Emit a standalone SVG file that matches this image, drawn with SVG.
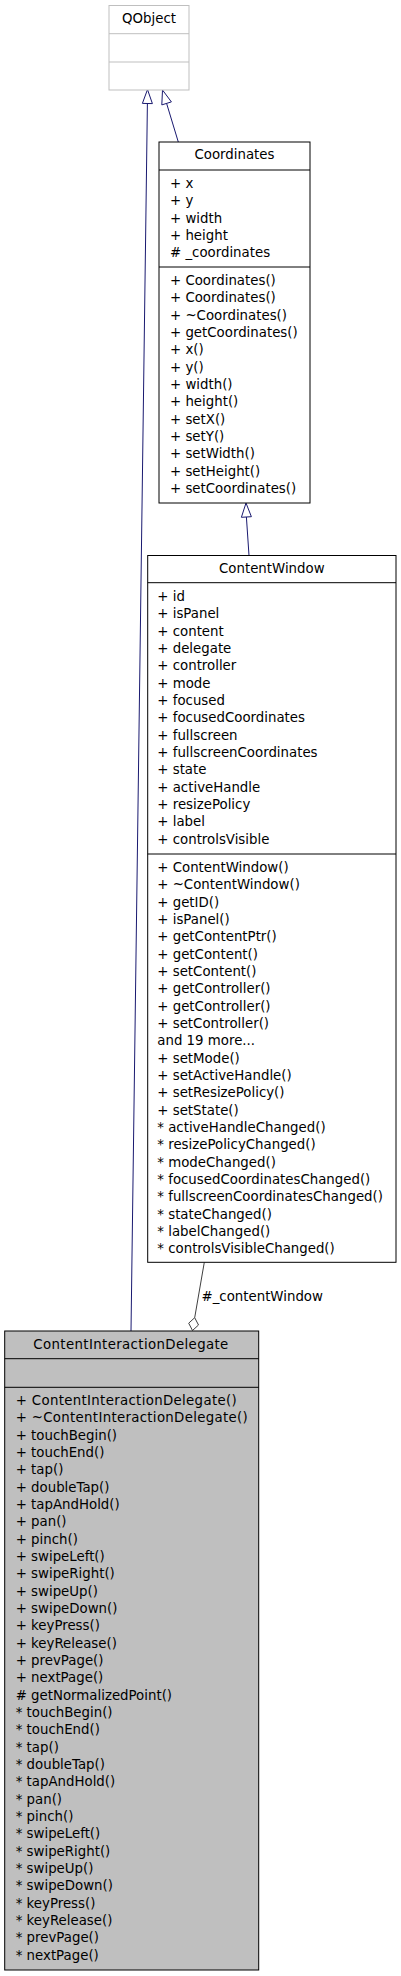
<svg xmlns="http://www.w3.org/2000/svg" width="401" height="1976" viewBox="0 0 401 1976">
<style>
text{font-family:"DejaVu Sans",sans-serif;font-size:13.33px;fill:#000}
.h{text-anchor:middle}
.box{fill:#fff;stroke:#000;stroke-width:1}
.sel{fill:#bfbfbf;stroke:#000;stroke-width:1}
.und{fill:#fff;stroke:#bfbfbf;stroke-width:1}
.div{stroke:#000;stroke-width:1}
.divg{stroke:#bfbfbf;stroke-width:1}
.inh{fill:none;stroke:#191970;stroke-width:1}
.inhh{fill:#fff;stroke:#191970;stroke-width:1}
.agg{fill:none;stroke:#404040;stroke-width:1}
.aggh{fill:#fff;stroke:#404040;stroke-width:1}
</style>
<rect width="401" height="1976" fill="#fff"/>
<g id="connectors">
<path class="inh" d="M131,1331 L147.4,103.5"/>
<polygon class="inhh" points="147.5,89.5 152.4,103.6 142.4,103.4"/>
<path class="inh" d="M178.3,142 L166.6,103.4"/>
<polygon class="inhh" points="162.5,90 171.4,101.9 161.8,104.9"/>
<path class="inh" d="M249,555.5 L246.4,517"/>
<polygon class="inhh" points="246,503 251.4,516.7 241.4,517.3"/>
<path class="agg" d="M204.3,1262.3 L194.7,1317.7"/>
<polygon class="aggh" points="192.5,1330.5 188.7,1323.2 194.7,1317.7 198.5,1325"/>
<text x="201.5" y="1301">#_contentWindow</text>
</g>
<g id="QObject">
<rect class="und" x="109" y="5.5" width="80" height="84.5"/>
<path class="divg" d="M109,33.7H189M109,62H189"/>
<text class="h" x="149" y="22.5">QObject</text>
</g>
<g id="Coordinates">
<rect class="box" x="159" y="142" width="151" height="361"/>
<path class="div" d="M159,170H310M159,267H310"/>
<text class="h" x="234.5" y="159">Coordinates</text>
<text x="170" y="188"><tspan x="170">+ x</tspan><tspan x="170" dy="17.33">+ y</tspan><tspan x="170" dy="17.33">+ width</tspan><tspan x="170" dy="17.33">+ height</tspan><tspan x="170" dy="17.33"># _coordinates</tspan></text>
<text x="170" y="285"><tspan x="170">+ Coordinates()</tspan><tspan x="170" dy="17.33">+ Coordinates()</tspan><tspan x="170" dy="17.33">+ ~Coordinates()</tspan><tspan x="170" dy="17.33">+ getCoordinates()</tspan><tspan x="170" dy="17.33">+ x()</tspan><tspan x="170" dy="17.33">+ y()</tspan><tspan x="170" dy="17.33">+ width()</tspan><tspan x="170" dy="17.33">+ height()</tspan><tspan x="170" dy="17.33">+ setX()</tspan><tspan x="170" dy="17.33">+ setY()</tspan><tspan x="170" dy="17.33">+ setWidth()</tspan><tspan x="170" dy="17.33">+ setHeight()</tspan><tspan x="170" dy="17.33">+ setCoordinates()</tspan></text>
</g>
<g id="ContentWindow">
<rect class="box" x="147.7" y="555.5" width="248.3" height="706.8"/>
<path class="div" d="M147.7,582.7H396M147.7,854H396"/>
<text class="h" x="271.8" y="573">ContentWindow</text>
<text x="157.3" y="601"><tspan x="157.3">+ id</tspan><tspan x="157.3" dy="17.33">+ isPanel</tspan><tspan x="157.3" dy="17.33">+ content</tspan><tspan x="157.3" dy="17.33">+ delegate</tspan><tspan x="157.3" dy="17.33">+ controller</tspan><tspan x="157.3" dy="17.33">+ mode</tspan><tspan x="157.3" dy="17.33">+ focused</tspan><tspan x="157.3" dy="17.33">+ focusedCoordinates</tspan><tspan x="157.3" dy="17.33">+ fullscreen</tspan><tspan x="157.3" dy="17.33">+ fullscreenCoordinates</tspan><tspan x="157.3" dy="17.33">+ state</tspan><tspan x="157.3" dy="17.33">+ activeHandle</tspan><tspan x="157.3" dy="17.33">+ resizePolicy</tspan><tspan x="157.3" dy="17.33">+ label</tspan><tspan x="157.3" dy="17.33">+ controlsVisible</tspan></text>
<text x="157.3" y="872"><tspan x="157.3">+ ContentWindow()</tspan><tspan x="157.3" dy="17.33">+ ~ContentWindow()</tspan><tspan x="157.3" dy="17.33">+ getID()</tspan><tspan x="157.3" dy="17.33">+ isPanel()</tspan><tspan x="157.3" dy="17.33">+ getContentPtr()</tspan><tspan x="157.3" dy="17.33">+ getContent()</tspan><tspan x="157.3" dy="17.33">+ setContent()</tspan><tspan x="157.3" dy="17.33">+ getController()</tspan><tspan x="157.3" dy="17.33">+ getController()</tspan><tspan x="157.3" dy="17.33">+ setController()</tspan><tspan x="157.3" dy="17.33">and 19 more...</tspan><tspan x="157.3" dy="17.33">+ setMode()</tspan><tspan x="157.3" dy="17.33">+ setActiveHandle()</tspan><tspan x="157.3" dy="17.33">+ setResizePolicy()</tspan><tspan x="157.3" dy="17.33">+ setState()</tspan><tspan x="157.3" dy="17.33">* activeHandleChanged()</tspan><tspan x="157.3" dy="17.33">* resizePolicyChanged()</tspan><tspan x="157.3" dy="17.33">* modeChanged()</tspan><tspan x="157.3" dy="17.33">* focusedCoordinatesChanged()</tspan><tspan x="157.3" dy="17.33">* fullscreenCoordinatesChanged()</tspan><tspan x="157.3" dy="17.33">* stateChanged()</tspan><tspan x="157.3" dy="17.33">* labelChanged()</tspan><tspan x="157.3" dy="17.33">* controlsVisibleChanged()</tspan></text>
</g>
<g id="ContentInteractionDelegate">
<rect class="sel" x="4.7" y="1331" width="254" height="639"/>
<path class="div" d="M4.7,1358.7H258.7M4.7,1387.3H258.7"/>
<text x="33.3" y="1349" textLength="195">ContentInteractionDelegate</text>
<text x="15.7" y="1405" textLength="221">+ ContentInteractionDelegate()</text>
<text x="15.7" y="1422.3" textLength="232">+ ~ContentInteractionDelegate()</text>
<text x="15.7" y="1439.7"><tspan x="15.7">+ touchBegin()</tspan><tspan x="15.7" dy="17.33">+ touchEnd()</tspan><tspan x="15.7" dy="17.33">+ tap()</tspan><tspan x="15.7" dy="17.33">+ doubleTap()</tspan><tspan x="15.7" dy="17.33">+ tapAndHold()</tspan><tspan x="15.7" dy="17.33">+ pan()</tspan><tspan x="15.7" dy="17.33">+ pinch()</tspan><tspan x="15.7" dy="17.33">+ swipeLeft()</tspan><tspan x="15.7" dy="17.33">+ swipeRight()</tspan><tspan x="15.7" dy="17.33">+ swipeUp()</tspan><tspan x="15.7" dy="17.33">+ swipeDown()</tspan><tspan x="15.7" dy="17.33">+ keyPress()</tspan><tspan x="15.7" dy="17.33">+ keyRelease()</tspan><tspan x="15.7" dy="17.33">+ prevPage()</tspan><tspan x="15.7" dy="17.33">+ nextPage()</tspan><tspan x="15.7" dy="17.33"># getNormalizedPoint()</tspan><tspan x="15.7" dy="17.33">* touchBegin()</tspan><tspan x="15.7" dy="17.33">* touchEnd()</tspan><tspan x="15.7" dy="17.33">* tap()</tspan><tspan x="15.7" dy="17.33">* doubleTap()</tspan><tspan x="15.7" dy="17.33">* tapAndHold()</tspan><tspan x="15.7" dy="17.33">* pan()</tspan><tspan x="15.7" dy="17.33">* pinch()</tspan><tspan x="15.7" dy="17.33">* swipeLeft()</tspan><tspan x="15.7" dy="17.33">* swipeRight()</tspan><tspan x="15.7" dy="17.33">* swipeUp()</tspan><tspan x="15.7" dy="17.33">* swipeDown()</tspan><tspan x="15.7" dy="17.33">* keyPress()</tspan><tspan x="15.7" dy="17.33">* keyRelease()</tspan><tspan x="15.7" dy="17.33">* prevPage()</tspan><tspan x="15.7" dy="17.33">* nextPage()</tspan></text>
</g>
</svg>
